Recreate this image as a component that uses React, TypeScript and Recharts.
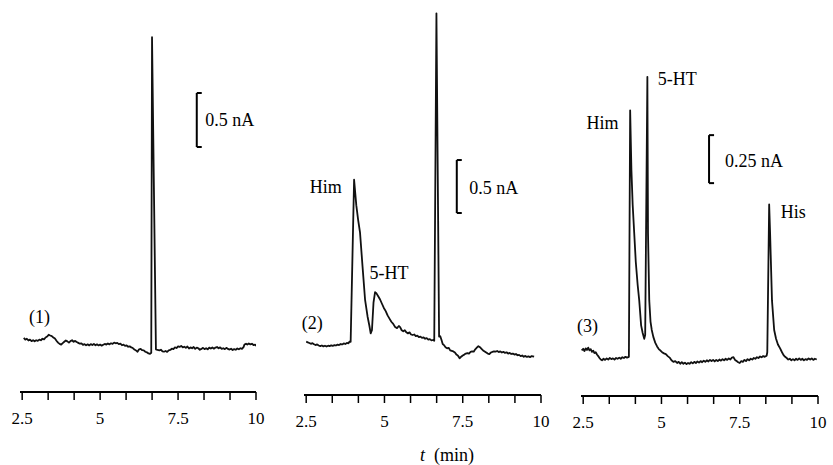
import {
  Line,
  LineChart,
  ReferenceDot,
  ReferenceLine,
  XAxis,
  YAxis,
} from "recharts";

type Pt = [number, number]; // [t (min), current (nA above baseline)]

const TRACE_1: Pt[] = [
  [2.55, 0.065], [2.6, 0.05], [2.65, 0.058], [2.7, 0.042], [2.75, 0.05], [2.8, 0.036],
  [2.85, 0.045], [2.9, 0.034], [2.95, 0.044], [3.0, 0.038], [3.05, 0.05], [3.1, 0.044],
  [3.15, 0.058], [3.2, 0.052], [3.25, 0.07], [3.3, 0.078], [3.35, 0.095], [3.4, 0.088],
  [3.45, 0.082], [3.5, 0.07], [3.55, 0.06], [3.6, 0.04], [3.65, 0.022], [3.7, 0.01],
  [3.75, 0.004], [3.8, 0.018], [3.85, 0.03], [3.9, 0.042], [3.95, 0.034], [4.0, 0.022],
  [4.05, 0.036], [4.1, 0.044], [4.15, 0.03], [4.2, 0.038], [4.25, 0.028], [4.3, 0.02],
  [4.35, 0.012], [4.4, 0.016], [4.45, 0.002], [4.5, 0.008], [4.55, -0.002], [4.6, 0.006],
  [4.65, -0.004], [4.7, 0.008], [4.75, 0.0], [4.8, 0.01], [4.85, -0.002], [4.9, 0.006],
  [4.95, -0.004], [5.0, 0.004], [5.05, -0.006], [5.1, 0.002], [5.15, 0.01], [5.2, 0.004],
  [5.25, 0.014], [5.3, 0.006], [5.35, 0.016], [5.4, 0.01], [5.45, 0.022], [5.5, 0.016],
  [5.55, 0.02], [5.6, 0.008], [5.65, 0.012], [5.7, -0.002], [5.75, 0.004], [5.8, -0.008],
  [5.85, -0.004], [5.9, -0.016], [5.95, -0.012], [6.0, -0.022], [6.05, -0.028], [6.1, -0.042],
  [6.15, -0.05], [6.2, -0.062], [6.25, -0.04], [6.3, -0.036], [6.35, -0.048], [6.4, -0.05],
  [6.45, -0.062], [6.5, -0.068], [6.55, -0.078], [6.6, -0.082], [6.64, -0.072], [6.665, 2.85],
  [6.79, -0.04], [6.84, -0.046], [6.9, -0.05], [6.95, -0.044], [7.0, -0.058], [7.05, -0.062],
  [7.1, -0.055], [7.15, -0.064], [7.2, -0.05], [7.25, -0.046], [7.3, -0.034], [7.35, -0.038],
  [7.4, -0.022], [7.45, -0.028], [7.5, -0.012], [7.55, -0.018], [7.6, -0.008], [7.65, -0.022],
  [7.7, -0.016], [7.75, -0.026], [7.8, -0.014], [7.85, -0.032], [7.9, -0.022], [7.95, -0.03],
  [8.0, -0.018], [8.05, -0.036], [8.1, -0.024], [8.15, -0.03], [8.2, -0.044], [8.25, -0.036],
  [8.3, -0.026], [8.35, -0.038], [8.4, -0.03], [8.45, -0.04], [8.5, -0.024], [8.55, -0.032],
  [8.6, -0.022], [8.65, -0.034], [8.7, -0.024], [8.75, -0.018], [8.8, -0.03], [8.85, -0.022],
  [8.9, -0.036], [8.95, -0.03], [9.0, -0.038], [9.05, -0.026], [9.1, -0.036], [9.15, -0.042],
  [9.2, -0.034], [9.25, -0.046], [9.3, -0.038], [9.35, -0.044], [9.4, -0.032], [9.45, -0.04],
  [9.5, -0.03], [9.55, -0.036], [9.6, -0.02], [9.63, 0.004], [9.68, 0.012], [9.72, 0.004],
  [9.77, 0.014], [9.82, 0.006], [9.87, 0.012], [9.92, 0.0], [9.97, 0.004], [10.0, -0.01],
];

const TRACE_2: Pt[] = [
  [2.5, 0.012], [2.55, 0.006], [2.6, 0.0], [2.65, -0.008], [2.7, -0.002], [2.75, -0.012],
  [2.8, -0.02], [2.85, -0.014], [2.9, -0.024], [2.95, -0.03], [3.0, -0.024], [3.05, -0.032],
  [3.1, -0.026], [3.15, -0.034], [3.2, -0.026], [3.25, -0.03], [3.3, -0.022], [3.35, -0.028],
  [3.4, -0.02], [3.45, -0.024], [3.5, -0.016], [3.55, -0.02], [3.6, -0.01], [3.65, -0.014],
  [3.7, -0.004], [3.75, -0.01], [3.8, 0.0], [3.85, -0.004], [3.88, 0.012], [3.92, 0.01],
  [4.03, 1.54], [4.1, 1.3], [4.16, 1.16], [4.22, 1.04], [4.3, 0.72], [4.38, 0.41],
  [4.46, 0.25], [4.52, 0.16], [4.56, 0.09], [4.6, 0.12], [4.65, 0.38], [4.7, 0.48],
  [4.74, 0.47], [4.8, 0.44], [4.86, 0.41], [4.92, 0.37], [4.98, 0.33], [5.04, 0.3],
  [5.1, 0.26], [5.16, 0.23], [5.22, 0.2], [5.28, 0.18], [5.34, 0.15], [5.4, 0.14],
  [5.46, 0.16], [5.5, 0.15], [5.55, 0.12], [5.6, 0.11], [5.65, 0.12], [5.7, 0.1],
  [5.75, 0.09], [5.8, 0.1], [5.85, 0.08], [5.9, 0.075], [5.95, 0.08], [6.0, 0.065],
  [6.05, 0.07], [6.1, 0.055], [6.15, 0.06], [6.2, 0.048], [6.25, 0.052], [6.3, 0.04],
  [6.35, 0.045], [6.4, 0.032], [6.45, 0.036], [6.5, 0.024], [6.55, 0.028], [6.59, 0.02],
  [6.66, 3.11], [6.745, 0.06], [6.78, 0.065], [6.82, 0.03], [6.86, -0.01], [6.9, -0.02],
  [6.95, -0.04], [7.0, -0.05], [7.05, -0.046], [7.1, -0.07], [7.15, -0.075], [7.2, -0.08],
  [7.25, -0.09], [7.3, -0.11], [7.35, -0.12], [7.4, -0.145], [7.45, -0.13], [7.5, -0.118],
  [7.55, -0.11], [7.6, -0.1], [7.65, -0.095], [7.7, -0.1], [7.75, -0.085], [7.8, -0.08],
  [7.85, -0.082], [7.9, -0.06], [7.95, -0.045], [8.0, -0.03], [8.05, -0.04], [8.1, -0.055],
  [8.15, -0.07], [8.2, -0.08], [8.25, -0.09], [8.3, -0.1], [8.35, -0.105], [8.4, -0.09],
  [8.45, -0.085], [8.5, -0.08], [8.55, -0.082], [8.6, -0.076], [8.65, -0.086], [8.7, -0.08],
  [8.75, -0.09], [8.8, -0.084], [8.85, -0.094], [8.9, -0.088], [8.95, -0.1], [9.0, -0.094],
  [9.05, -0.104], [9.1, -0.1], [9.15, -0.11], [9.2, -0.104], [9.25, -0.116], [9.3, -0.112],
  [9.35, -0.124], [9.4, -0.118], [9.45, -0.13], [9.5, -0.122], [9.55, -0.132], [9.6, -0.126],
  [9.65, -0.134], [9.7, -0.124], [9.78, -0.13],
];

const TRACE_3: Pt[] = [
  [2.45, 0.04], [2.5, 0.048], [2.54, 0.036], [2.58, 0.05], [2.62, 0.042], [2.66, 0.054],
  [2.7, 0.04], [2.74, 0.046], [2.78, 0.032], [2.82, 0.038], [2.86, 0.026], [2.9, 0.03],
  [2.94, 0.018], [2.98, 0.01], [3.02, 0.0], [3.06, -0.008], [3.1, -0.012], [3.15, -0.004],
  [3.2, -0.01], [3.25, -0.002], [3.3, -0.008], [3.35, 0.0], [3.4, -0.006], [3.45, -0.002],
  [3.5, -0.008], [3.55, 0.0], [3.6, -0.004], [3.65, 0.002], [3.7, -0.004], [3.75, 0.004],
  [3.8, 0.0], [3.85, 0.006], [3.9, 0.002], [3.96, 0.006], [4.0, 1.29], [4.04, 0.98],
  [4.08, 0.8], [4.13, 0.65], [4.18, 0.5], [4.24, 0.38], [4.29, 0.3], [4.35, 0.17],
  [4.4, 0.13], [4.45, 0.1], [4.48, 0.12], [4.55, 1.465], [4.57, 0.65], [4.61, 0.3],
  [4.65, 0.19], [4.69, 0.146], [4.74, 0.11], [4.8, 0.08], [4.86, 0.06], [4.92, 0.045],
  [4.96, 0.04], [5.02, 0.03], [5.08, 0.024], [5.14, 0.02], [5.2, 0.01], [5.26, 0.002],
  [5.32, -0.012], [5.38, -0.02], [5.44, -0.016], [5.5, -0.026], [5.55, -0.02], [5.6, -0.03],
  [5.65, -0.022], [5.7, -0.03], [5.75, -0.024], [5.8, -0.032], [5.85, -0.026], [5.9, -0.03],
  [5.95, -0.022], [6.0, -0.028], [6.05, -0.02], [6.1, -0.026], [6.15, -0.018], [6.2, -0.024],
  [6.25, -0.016], [6.3, -0.022], [6.35, -0.014], [6.4, -0.02], [6.45, -0.012], [6.5, -0.018],
  [6.55, -0.01], [6.6, -0.016], [6.65, -0.01], [6.7, -0.018], [6.75, -0.01], [6.8, -0.016],
  [6.85, -0.008], [6.9, -0.014], [6.95, -0.006], [7.0, -0.012], [7.05, -0.004], [7.1, -0.01],
  [7.15, -0.002], [7.2, -0.008], [7.25, 0.002], [7.3, 0.004], [7.35, -0.01], [7.4, -0.016],
  [7.45, -0.022], [7.5, -0.026], [7.55, -0.016], [7.6, -0.02], [7.65, -0.01], [7.7, -0.016],
  [7.75, -0.006], [7.8, -0.012], [7.85, -0.004], [7.9, -0.008], [7.95, 0.0], [8.0, -0.004],
  [8.05, 0.004], [8.1, 0.0], [8.15, 0.008], [8.2, 0.004], [8.25, 0.01], [8.3, 0.006],
  [8.36, 0.012], [8.38, 0.03], [8.44, 0.8], [8.47, 0.65], [8.53, 0.3], [8.6, 0.146],
  [8.66, 0.1], [8.72, 0.07], [8.79, 0.05], [8.85, 0.03], [8.9, 0.015], [8.95, 0.006],
  [9.0, 0.0], [9.05, -0.008], [9.1, -0.004], [9.15, -0.012], [9.2, -0.006], [9.25, -0.012],
  [9.3, -0.004], [9.35, -0.01], [9.4, -0.002], [9.45, -0.01], [9.5, -0.004], [9.55, -0.012],
  [9.6, -0.006], [9.65, -0.01], [9.7, -0.002], [9.75, -0.008], [9.8, -0.002], [9.85, -0.01],
  [9.9, -0.004], [9.96, -0.008],
];

const TICKS = [2.5, 3.333, 4.167, 5, 5.833, 6.667, 7.5, 8.333, 9.167, 10];
const TICK_LABELS = [2.5, 5, 7.5, 10];

// scale bars: [t, low nA, high nA]
const BAR_1 = [8.1, 1.833, 2.333];
const BAR_2 = [7.31, 1.226, 1.726];
const BAR_3 = [6.52, 0.911, 1.161];

type Note = { text: string; t: number; i: number; side: "left" | "right" };

const NOTES_1: Note[] = [
  { text: "(1)", t: 2.72, i: 0.26, side: "right" },
  { text: "0.5 nA", t: 8.37, i: 2.083, side: "right" },
];
const NOTES_2: Note[] = [
  { text: "(2)", t: 2.36, i: 0.19, side: "right" },
  { text: "Him", t: 3.64, i: 1.475, side: "left" },
  { text: "5-HT", t: 4.52, i: 0.665, side: "right" },
  { text: "0.5 nA", t: 7.71, i: 1.47, side: "right" },
];
const NOTES_3: Note[] = [
  { text: "(3)", t: 2.3, i: 0.17, side: "right" },
  { text: "Him", t: 3.63, i: 1.227, side: "left" },
  { text: "5-HT", t: 4.88, i: 1.457, side: "right" },
  { text: "0.25 nA", t: 7.03, i: 1.03, side: "right" },
  { text: "His", t: 8.81, i: 0.762, side: "right" },
];

const FONT = "'Liberation Serif', 'Times New Roman', serif";
const INK = "#111";

function Panel({
  trace,
  bar,
  notes,
  left,
  width,
  margin,
  yDomain,
}: {
  trace: Pt[];
  bar: number[];
  notes: Note[];
  left: number;
  width: number;
  margin: { top: number; right: number; bottom: number; left: number };
  yDomain: [number, number];
}) {
  const data = trace.map(([t, i]) => ({ t, i }));
  const [bt, lo, hi] = bar;
  const serif = 0.16;

  return (
    <div style={{ position: "absolute", left, top: 0 }}>
      <LineChart width={width} height={465} data={data} margin={margin}>
        <XAxis
          dataKey="t"
          type="number"
          domain={[2.43, 10]}
          allowDataOverflow
          ticks={TICKS}
          interval={0}
          height={30}
          tickSize={8}
          tickMargin={12}
          tickFormatter={(v: number) =>
            TICK_LABELS.includes(v) ? String(v) : ""
          }
          tick={{ fill: "#000", fontSize: 17, fontFamily: FONT }}
          axisLine={{ stroke: "#000", strokeWidth: 2 }}
          tickLine={{ stroke: "#000", strokeWidth: 1.5 }}
        />
        <YAxis hide type="number" domain={yDomain} allowDataOverflow />
        <Line
          type="linear"
          dataKey="i"
          stroke={INK}
          strokeWidth={1.8}
          strokeLinejoin="round"
          dot={false}
          activeDot={false}
          isAnimationActive={false}
        />
        <ReferenceLine
          segment={[{ x: bt, y: lo }, { x: bt, y: hi }]}
          stroke="#000"
          strokeWidth={2}
          ifOverflow="visible"
        />
        <ReferenceLine
          segment={[{ x: bt, y: lo }, { x: bt + serif, y: lo }]}
          stroke="#000"
          strokeWidth={2}
          ifOverflow="visible"
        />
        <ReferenceLine
          segment={[{ x: bt, y: hi }, { x: bt + serif, y: hi }]}
          stroke="#000"
          strokeWidth={2}
          ifOverflow="visible"
        />
        {notes.map((n) => (
          <ReferenceDot
            key={n.text}
            x={n.t}
            y={n.i}
            r={0}
            fill="none"
            stroke="none"
            ifOverflow="visible"
            label={{
              value: n.text,
              position: n.side,
              offset: 0,
              fill: "#000",
              fontSize: 18,
              fontFamily: FONT,
            }}
          />
        ))}
      </LineChart>
    </div>
  );
}

export default function App() {
  return (
    <div
      style={{
        position: "absolute",
        left: 0,
        top: 0,
        width: 833,
        height: 465,
        background: "#fff",
        fontFamily: FONT,
      }}
    >
      <Panel
        trace={TRACE_1}
        bar={BAR_1}
        notes={NOTES_1}
        left={0}
        width={280}
        margin={{ top: 0, right: 24, bottom: 43, left: 20 }}
        yDomain={[-0.435, 3.194]}
      />
      <Panel
        trace={TRACE_2}
        bar={BAR_2}
        notes={NOTES_2}
        left={280}
        width={280}
        margin={{ top: 0, right: 19, bottom: 40, left: 24 }}
        yDomain={[-0.491, 3.236]}
      />
      <Panel
        trace={TRACE_3}
        bar={BAR_3}
        notes={NOTES_3}
        left={560}
        width={273}
        margin={{ top: 0, right: 15, bottom: 39, left: 21 }}
        yDomain={[-0.198, 1.865]}
      />
      <div
        style={{
          position: "absolute",
          left: 420,
          top: 444,
          fontSize: 18,
          lineHeight: "22px",
          whiteSpace: "pre",
        }}
      >
        <i>t</i>  (min)
      </div>
    </div>
  );
}
